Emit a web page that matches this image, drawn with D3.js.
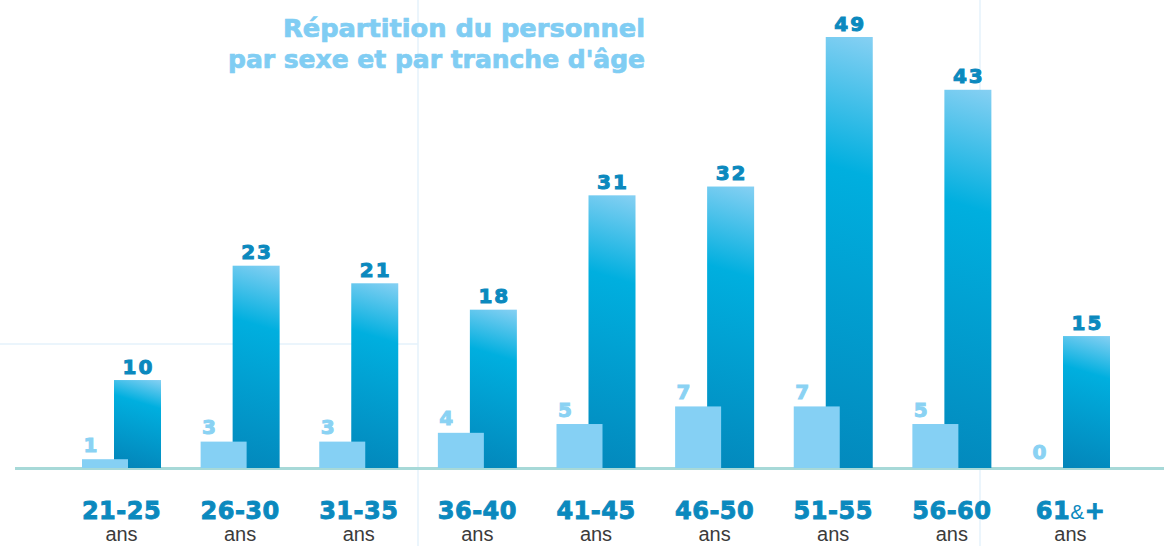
<!DOCTYPE html>
<html>
<head>
<meta charset="utf-8">
<script src="https://cdn.jsdelivr.net/npm/d3@7"></script>
<style>
  body { margin: 0; background: #fff; }
  svg { display: block; }
</style>
</head>
<body>
<div id="chart"></div>
<script>
// tranches d'age + effectifs (femmes = clair, hommes = degrade)
var categories = ["21-25", "26-30", "31-35", "36-40", "41-45", "46-50", "51-55", "56-60", "61&+"];
var femmes = [1, 3, 3, 4, 5, 7, 7, 5, 0];
var hommes = [10, 23, 21, 18, 31, 32, 49, 43, 15];
var titleLines = ["Répartition du personnel", "par sexe et par tranche d'âge"];

var width = 1164, height = 546;

var svg = d3.select("#chart")
    .append("svg")
    .attr("width", width)
    .attr("height", height);

var defs = svg.append("defs");

// decorative background lines
var bg = svg.append("g").attr("stroke", "#e5f2fb").attr("stroke-width", 1.5);
bg.append("line").attr("x1", 418).attr("x2", 418).attr("y1", 0).attr("y2", height);
bg.append("line").attr("x1", 0).attr("x2", 418).attr("y1", 344).attr("y2", 344);
bg.append("line").attr("x1", 980).attr("x2", 980).attr("y1", 0).attr("y2", height);

// scales
var x = d3.scaleBand()
    .domain(categories)
    .range([82, 1110])
    .paddingInner(0.334)
    .paddingOuter(0);

var y = d3.scaleLinear()
    .domain([0, 49])
    .range([468, 37]);

var barW = 47;
var offset = x.bandwidth() - barW;

// one gradient per tall bar so the diagonal keeps the same angle
defs.selectAll("linearGradient")
    .data(hommes)
    .enter()
    .append("linearGradient")
    .attr("id", function(d, i) { return "g" + i; })
    .attr("gradientUnits", "userSpaceOnUse")
    .attr("x1", function(d, i) { return x(categories[i]) + offset + barW; })
    .attr("y1", function(d) { return y(d); })
    .attr("x2", function(d, i) { return x(categories[i]) + offset + barW - 0.3 * (y(0) - y(d)); })
    .attr("y2", y(0))
    .each(function() {
        var g = d3.select(this);
        g.append("stop").attr("offset", "0%").attr("stop-color", "#86d0f3");
        g.append("stop").attr("offset", "30%").attr("stop-color", "#00afdf");
        g.append("stop").attr("offset", "100%").attr("stop-color", "#0386ba");
    });

// baseline
svg.append("line")
    .attr("x1", 15).attr("x2", width)
    .attr("y1", y(0) + 0.5).attr("y2", y(0) + 0.5)
    .attr("stroke", "#a7d9d8")
    .attr("stroke-width", 3);

var boldFont = "'DejaVu Sans', sans-serif";

// hommes bars (drawn first, femmes overlap on top)
svg.selectAll("rect.h")
    .data(hommes)
    .enter()
    .append("rect")
    .attr("class", "h")
    .attr("x", function(d, i) { return x(categories[i]) + offset; })
    .attr("y", function(d) { return y(d); })
    .attr("width", barW)
    .attr("height", function(d) { return y(0) - y(d); })
    .attr("fill", function(d, i) { return "url(#g" + i + ")"; });

svg.selectAll("rect.f")
    .data(femmes)
    .enter()
    .append("rect")
    .attr("class", "f")
    .attr("x", function(d, i) { return x(categories[i]); })
    .attr("y", function(d) { return y(d); })
    .attr("width", 46)
    .attr("height", function(d) { return y(0) - y(d); })
    .attr("fill", "#85d0f4");

// value labels
svg.selectAll("text.hv")
    .data(hommes)
    .enter()
    .append("text")
    .attr("class", "hv")
    .attr("x", function(d, i) { return x(categories[i]) + offset + barW / 2 + 1; })
    .attr("y", function(d) { return y(d) - 6.5; })
    .attr("text-anchor", "middle")
    .attr("font-family", boldFont)
    .attr("font-weight", "bold")
    .attr("font-size", 20)
    .attr("letter-spacing", 2)
    .attr("fill", "#0b89be")
    .attr("stroke", "#0b89be")
    .attr("stroke-width", 1)
    .text(function(d) { return d; });

svg.selectAll("text.fv")
    .data(femmes)
    .enter()
    .append("text")
    .attr("class", "fv")
    .attr("x", function(d, i) { return x(categories[i]) + 1.5; })
    .attr("y", function(d) { return y(d) - 7.5 - (d === 0 ? 2 : 0); })
    .attr("text-anchor", "start")
    .attr("font-family", boldFont)
    .attr("font-weight", "bold")
    .attr("font-size", 20)
    .attr("letter-spacing", 2)
    .attr("fill", "#8ad2f3")
    .attr("stroke", "#8ad2f3")
    .attr("stroke-width", 1)
    .text(function(d) { return d; });

// category labels
var cat = svg.selectAll("g.cat")
    .data(categories)
    .enter()
    .append("g")
    .attr("class", "cat")
    .attr("transform", function(d) { return "translate(" + (x(d) + x.bandwidth() / 2) + ",0)"; });

var catText = cat.append("text")
    .attr("y", 519)
    .attr("text-anchor", "middle")
    .attr("font-family", boldFont)
    .attr("font-weight", "bold")
    .attr("font-size", 24)
    .attr("letter-spacing", 0.5)
    .attr("fill", "#0b89be")
    .attr("stroke", "#0b89be")
    .attr("stroke-width", 0.9);

catText.each(function(d) {
    var t = d3.select(this);
    if (d.indexOf("&") >= 0) {
        var parts = d.split("&");
        t.append("tspan").text(parts[0]);
        t.append("tspan").attr("font-weight", "normal").attr("font-size", 21)
            .attr("stroke-width", 0)
            .attr("font-family", "'Liberation Sans', sans-serif").text("&");
        t.append("tspan").text(parts[1]);
    } else {
        t.text(d);
    }
});

cat.append("text")
    .attr("y", 541)
    .attr("text-anchor", "middle")
    .attr("font-family", "'Liberation Sans', sans-serif")
    .attr("font-size", 20)
    .attr("fill", "#3b3b3b")
    .text("ans");

// title
var titleWidths = [362, 417];
svg.append("g")
    .selectAll("text")
    .data(titleLines)
    .enter()
    .append("text")
    .attr("x", 645)
    .attr("y", function(d, i) { return 37 + i * 31; })
    .attr("text-anchor", "end")
    .attr("font-family", boldFont)
    .attr("font-weight", "bold")
    .attr("font-size", 24)
    .attr("textLength", function(d, i) { return titleWidths[i]; })
    .attr("lengthAdjust", "spacingAndGlyphs")
    .attr("fill", "#80cdf3")
    .attr("stroke", "#80cdf3")
    .attr("stroke-width", 0.7)
    .text(function(d) { return d; });
</script>
</body>
</html>
